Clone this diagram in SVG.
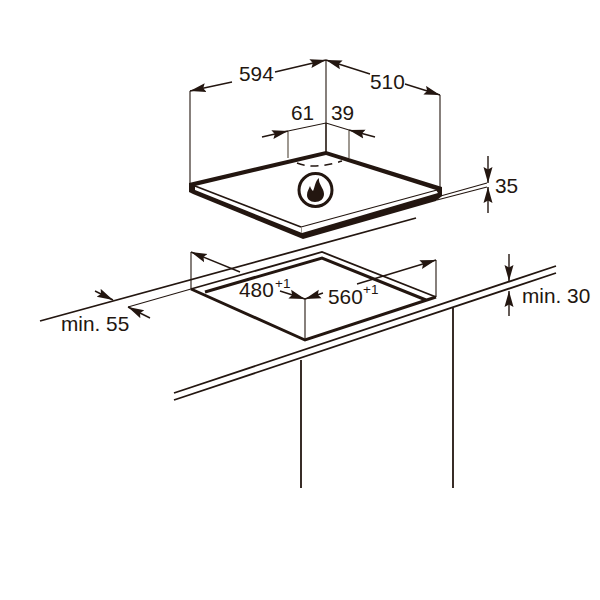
<svg xmlns="http://www.w3.org/2000/svg" width="600" height="600" viewBox="0 0 600 600">
<style>
text{font-family:"Liberation Sans",Arial,sans-serif;font-size:20.8px;fill:#231610}
text.sup{font-size:13.5px}
.l{fill:none;stroke:#231610;stroke-width:1.8}
.t{fill:none;stroke:#231610;stroke-width:1.1}
.g{fill:none;stroke:#6b6256;stroke-width:1.3}
.k{fill:none;stroke:#231610;stroke-width:3;stroke-linejoin:miter}
.a{fill:none;stroke:#231610;stroke-width:1.4;marker-end:url(#ah)}
</style>
<defs>
<marker id="ah" markerUnits="userSpaceOnUse" markerWidth="18" markerHeight="12" refX="16" refY="5" orient="auto"><path d="M0 0.5 L16 5 L0 9.5 L2.5 5 Z" fill="#231610"/></marker>
</defs>
<rect width="600" height="600" fill="#fff"/>
<g id="worktop">
<path class="l" d="M40 321 L416 218"/>
<path class="l" d="M174 393 L556 266"/>
<path class="l" d="M174 400 L556 273"/>
<path class="l" d="M301 360 V488"/>
<path class="l" d="M453 308 V488"/>
</g>
<g id="cutout">
<path class="l" d="M191 289 L322 252 L436 297"/>
<path class="k" d="M191 289 L305 340 L436 297"/>
<path class="k" d="M205 292 L322 258 L426 300"/>
</g>
<g id="hob">
<path fill="#231610" d="M189 183 L326 151 L442 187 L442 196 L436 201 L303 239 L193 194 L189 192 Z"/>
<path fill="#fff" d="M195 186 L326 155 L436 190 L438 193 L302 233 L195 190 Z"/>
<path fill="none" stroke="#231610" stroke-width="1.7" d="M195 186 L301 227"/>
<path fill="none" stroke="#231610" stroke-width="1.2" d="M301 227 L437 190"/>
<path fill="none" stroke="#8a8178" stroke-width="0.8" d="M301.500 227 V233"/>
<path fill="none" stroke="#231610" stroke-width="1.5" stroke-dasharray="8 6" d="M297 163 Q313 170 342 161"/>
<circle cx="315.500" cy="190" r="16.500" fill="#fff" stroke="#231610" stroke-width="3"/>
<path fill="#231610" d="M319 178 C318 184 324 188 324 194 C324 199 320 202 315 202 C310 202 307 199 307 195 C307 191 309 189 310 186 C311 189 312 190 313 191 C315 187 315 181 319 178 Z"/>
</g>
<g id="connectors">
<path class="t" d="M190 91 V184"/>
<path class="t" d="M326 60 V152"/>
<path class="t" d="M440 95 V188"/>
<path class="a" d="M232 82 L190 91"/>
<path class="a" d="M275 72 L326 60"/>
<path class="a" d="M370 74 L326 60"/>
<path class="a" d="M405 84 L440 95"/>
<path class="t" d="M288 131 L326 123 L349 130"/>
<path class="g" d="M288 131 V158"/>
<path class="g" d="M349 130 V158"/>
<path class="t" d="M326 123 V152"/>
<path class="a" d="M262 137 L288 131"/>
<path class="a" d="M375 137 L349 130"/>
<path class="t" d="M437 197 L487 183"/>
<path class="t" d="M437 200 L487 187"/>
<path class="a" d="M488 156 V183"/>
<path class="a" d="M488 213 V187"/>
<path class="t" d="M191 252 V289"/>
<path class="a" d="M240 272 L191 252"/>
<path class="t" d="M191 289 L128 307"/>
<path class="a" d="M95 291 L113 300"/>
<path class="a" d="M150 318 L128 307"/>
<path class="t" d="M305 299 V339"/>
<path class="a" d="M280 291 L305 299"/>
<path class="a" d="M323 293 L305 299"/>
<path class="a" d="M357 284 L436 260"/>
<path class="t" d="M436 260 V297"/>
<path class="a" d="M509 254 V281"/>
<path class="a" d="M509 316 V291"/>
</g>
<g id="labels">
<text x="239" y="81">594</text>
<text x="370" y="89">510</text>
<text x="291" y="120">61</text>
<text x="331" y="120">39</text>
<text x="495" y="193">35</text>
<text x="239" y="297">480</text>
<text x="275" y="288" class="sup">+1</text>
<text x="328" y="304">560</text>
<text x="363" y="294" class="sup">+1</text>
<text x="61" y="331">min. 55</text>
<text x="522" y="303">min. 30</text>
</g>
</svg>
